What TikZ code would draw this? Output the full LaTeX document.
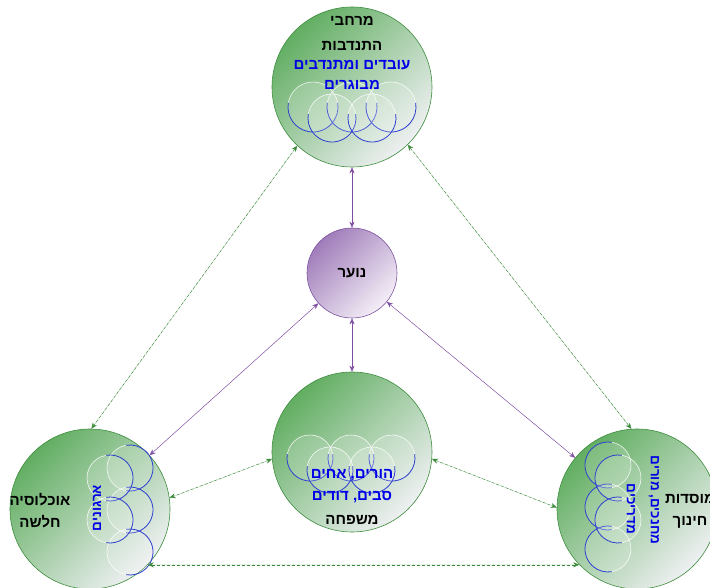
\documentclass[tikz,border=0pt]{standalone}
\usepackage{fontspec}
\setmainfont{Liberation Sans}
\newfontfamily\hebfont[Script=Hebrew, Extension=.ttf]{LiberationSans-Bold}
\TeXXeTstate=1
\usetikzlibrary{arrows.meta,positioning,shapes.geometric}
\definecolor{Leaf}{HTML}{62AE62}
\definecolor{LeafEdge}{HTML}{3E8E3E}
\definecolor{Mist}{HTML}{EEF0F2}
\definecolor{Plum}{HTML}{A07CBA}
\definecolor{PlumEdge}{HTML}{7D52A0}
\definecolor{PlumLight}{HTML}{F4EFF7}
\definecolor{InkBlue}{HTML}{0000E6}
\definecolor{RingBlue}{HTML}{2E3FD2}
\definecolor{DashGreen}{HTML}{3A8A3A}
\definecolor{LinkPurple}{HTML}{7F4FA3}

% one bubble ring: x, y, radius, direction of its blue side
\newcommand\ringat[4]{%
  \fill[white,opacity=0.16] (#1,#2) circle (#3);
  \draw[RingBlue,thick] (#1,#2) ++(#4-100:#3) arc (#4-100:#4+100:#3);
  \draw[white,opacity=0.85,semithick] (#1,#2) ++(#4+100:#3) arc (#4+100:#4+260:#3);
}

\begin{document}
\begin{tikzpicture}[
  x=1pt, y=1pt,
  realm/.style={circle, draw=LeafEdge, semithick, minimum size=160pt, inner sep=0pt, top color=Leaf, bottom color=Mist, shading angle=45},
  youth/.style={circle, draw=PlumEdge, semithick, minimum size=90pt, inner sep=0pt, top color=Plum, bottom color=PlumLight, shading angle=45},
  heading/.style={font=\hebfont\fontsize{15}{22}\selectfont, text=black, align=center, inner sep=0pt},
  members/.style={heading, text=InkBlue},
  sidetext/.style={font=\hebfont\fontsize{13.5}{14}\selectfont, text=InkBlue, inner sep=0pt},
  bond/.style={{Stealth[length=6pt,width=5pt]}-{Stealth[length=6pt,width=5pt]}, draw=LinkPurple, fill=LinkPurple},
  tie/.style={{Stealth[length=6pt,width=5pt]}-{Stealth[length=6pt,width=5pt]}, draw=DashGreen, fill=DashGreen, dash pattern=on 3pt off 2pt}
]
\useasboundingbox (0,0) rectangle (710,587);
\clip (0,0) rectangle (710,587);

\node[realm] (vol) at (352,500) {};
\node[youth] (noar) at (352,314) {};
\node[realm] (fam) at (352,135) {};
\node[realm] (left) at (90,78) {};
\node[realm] (right) at (637,78) {};

% bubbles
\foreach \cx in {313,352,391} {\ringat{\cx}{480}{25}{270}}
\foreach \cx in {332,372} {\ringat{\cx}{469}{24}{270}}
\foreach \cx in {310,351,392} {\ringat{\cx}{129}{23}{270}}
\foreach \cx in {330,372} {\ringat{\cx}{117}{23}{270}}
\foreach \cy in {119,77,35} {\ringat{130}{\cy}{23}{0}}
\foreach \cy in {109,67} {\ringat{110}{\cy}{23}{0}}
\foreach \cy in {122,80,38} {\ringat{608}{\cy}{23}{180}}
\foreach \cy in {109,67} {\ringat{618}{\cy}{23}{180}}

% texts
\node[heading, font=\hebfont\fontsize{15}{25}\selectfont] (voltitle) at (352,554) {\beginR מרחבי\endR\\\beginR התנדבות\endR};
\node[members, font=\hebfont\fontsize{15}{20}\selectfont] (volpeople) at (352,512) {\beginR עובדים ומתנדבים\endR\\\beginR מבוגרים\endR};
\node[heading] (noartext) at (noar) {\beginR נוער\endR};
\node[members] (fampeople) at (352,101) {\beginR הורים, אחים\endR\\\beginR סבים, דודים\endR};
\node[heading] (famtitle) at (352,67) {\beginR משפחה\endR};
\node[heading] (lefttitle) at (40,76) {\beginR אוכלוסיה\endR\\\beginR חלשה\endR};
\node[sidetext, rotate=90] (orgs) at (97,79) {\beginR ארגונים\endR};
\node[heading] (righttitle) at (690,76) {\beginR מוסדות\endR\\\beginR חינוך\endR};
\node[sidetext, rotate=-90] (guides) at (631,78) {\beginR מדריכים\endR};
\node[sidetext, rotate=-90] (teachers) at (654,87) {\beginR מחנכים, מורים\endR};

% links
\draw[bond] (vol) -- (noar);
\draw[bond] (noar) -- (fam);
\draw[bond] (noar) -- (left);
\draw[bond] (noar) -- (right);
\draw[tie] (vol.227) -- (left.89);
\draw[tie] (vol.314) -- (right.94);
\draw[tie] (fam.185) -- (left.8);
\draw[tie] (fam.-5) -- (right.179);
\draw[tie] (left.-44) -- (right.224);
\end{tikzpicture}
\end{document}
